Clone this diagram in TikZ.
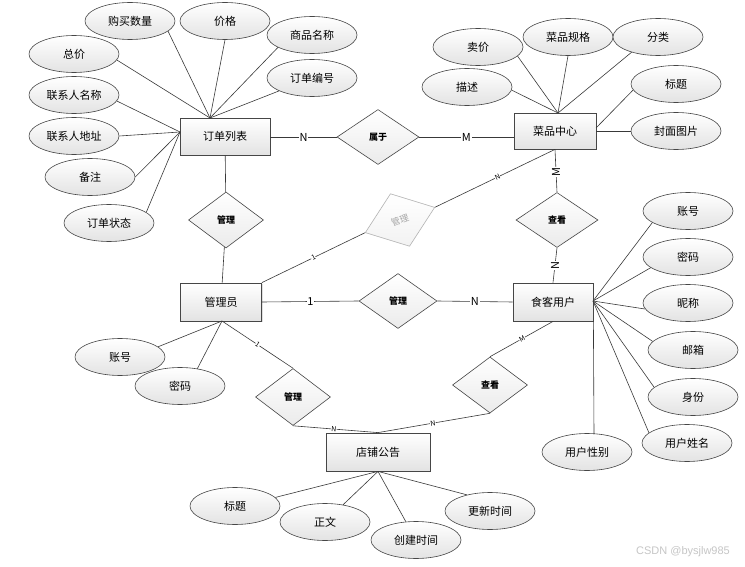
\documentclass[tikz,border=0pt]{standalone}
\usepackage{fontspec}
\setmainfont{Noto Sans CJK SC}
\newfontfamily\wmfont{Liberation Sans}
\usetikzlibrary{shapes.geometric,shadows}
\begin{document}
\begin{tikzpicture}[x=1pt,y=-1pt,
  ent/.style={rectangle, draw=gray!55!black, line width=0.8pt, top color=white, bottom color=gray!22,
    inner sep=0pt, font=\fontsize{11}{11}\selectfont,
    drop shadow={shadow xshift=1.2pt, shadow yshift=-1.2pt, opacity=0.25}},
  attr/.style={ellipse, draw=gray!55!black, line width=0.6pt, top color=white, bottom color=gray!22,
    minimum width=90pt, minimum height=37pt, inner sep=0pt, font=\fontsize{11}{11}\selectfont},
  rel/.style={diamond, draw=gray!55!black, line width=0.6pt, top color=white, bottom color=gray!16,
    inner sep=0pt, font=\fontsize{9}{9}\selectfont\bfseries},
  ln/.style={draw=gray!45!black, line width=0.6pt},
  card/.style={fill=white, inner sep=0.6pt, font=\fontsize{11}{11}\selectfont},
  scard/.style={fill=white, inner sep=0.3pt, font=\fontsize{7}{7}\selectfont, sloped}]
\useasboundingbox (0,0) rectangle (745,567);
\fill[white] (0,0) rectangle (745,567);

% entities
\node[ent, minimum width=90pt, minimum height=37pt] (ol) at (225,136.5) {订单列表};
\node[ent, minimum width=82pt, minimum height=36pt] (cp) at (555,131) {菜品中心};
\node[ent, minimum width=81pt, minimum height=38pt] (admin) at (221,302) {管理员};
\node[ent, minimum width=80pt, minimum height=38pt] (user) at (553,302) {食客用户};
\node[ent, minimum width=104pt, minimum height=38pt] (shop) at (378,452) {店铺公告};

% relationships
\node[rel, minimum width=82pt, minimum height=55pt] (shuyu) at (378,137) {属于};
\node[rel, minimum width=75pt, minimum height=56pt] (gl1) at (226,220) {管理};
\node[rel, minimum width=82pt, minimum height=55pt] (ck1) at (557,220) {查看};
\node[rel, minimum width=78pt, minimum height=55pt] (gm) at (398,301) {管理};
\node[rel, minimum width=75pt, minimum height=57pt] (gl2) at (293,397) {管理};
\node[rel, minimum width=75pt, minimum height=56pt] (ck2) at (490,385) {查看};
\node[rel, draw=gray!60, bottom color=gray!10, text=gray!70, font=\fontsize{9}{9}\selectfont,
  minimum width=74pt, minimum height=56pt, rotate=20] (rd) at (400,220) {管理};

% attributes of 订单列表
\node[attr] (buy) at (130,21) {购买数量};
\node[attr] (price) at (225,21) {价格};
\node[attr] (pname) at (312,35) {商品名称};
\node[attr] (ono) at (312,78) {订单编号};
\node[attr] (total) at (74,54) {总价};
\node[attr] (cname) at (74,95) {联系人名称};
\node[attr] (caddr) at (74,136) {联系人地址};
\node[attr] (note) at (90,177) {备注};
\node[attr] (status) at (109,223) {订单状态};

% attributes of 菜品中心
\node[attr] (sell) at (478,47) {卖价};
\node[attr] (desc) at (467,87) {描述};
\node[attr] (spec) at (568,37) {菜品规格};
\node[attr] (cat) at (658,37) {分类};
\node[attr] (ctitle) at (676,84) {标题};
\node[attr] (cover) at (676,131) {封面图片};

% attributes of 食客用户
\node[attr] (uacc) at (688,211) {账号};
\node[attr] (upwd) at (688,257) {密码};
\node[attr] (nick) at (688,303) {昵称};
\node[attr] (mail) at (693,350) {邮箱};
\node[attr] (ident) at (693,397) {身份};
\node[attr] (uname) at (687,443) {用户姓名};
\node[attr] (gender) at (587,452) {用户性别};

% attributes of 管理员
\node[attr] (aacc) at (120,357) {账号};
\node[attr] (apwd) at (180,386) {密码};

% attributes of 店铺公告
\node[attr] (stitle) at (235,506) {标题};
\node[attr] (body) at (325,522) {正文};
\node[attr] (created) at (416,540) {创建时间};
\node[attr] (updated) at (490,511) {更新时间};

% convergence points
\coordinate (olT) at (210,118);
\coordinate (olL) at (180,132);
\coordinate (cpT) at (558,113);
\coordinate (cpR1) at (596,128);
\coordinate (cpR2) at (596,131);
\coordinate (uR) at (593,301);
\coordinate (gT) at (594,434);
\coordinate (aB) at (222,321);

% attribute lines
\draw[ln] (buy.-15) -- (olT);
\draw[ln] (price.south) -- (olT);
\draw[ln] (pname.-160) -- (olT);
\draw[ln] (ono) -- (olT);
\draw[ln] (total.-8) -- (olT);
\draw[ln] (cname.-8) -- (olL);
\draw[ln] (caddr.east) -- (olL);
\draw[ln] (note.east) -- (olL);
\draw[ln] (status.16) -- (olL);

\draw[ln] (sell.-13) -- (cpT);
\draw[ln] (desc.-4) -- (cpT);
\draw[ln] (spec.south) -- (cpT);
\draw[ln] (cat.-150) -- (cpT);
\draw[ln] (ctitle.188) -- (cpR1);
\draw[ln] (cover.west) -- (cpR2);

\draw[ln] (uacc.-162) -- (uR);
\draw[ln] (upwd.-164) -- (uR);
\draw[ln] (nick.-172) -- (uR);
\draw[ln] (mail.168) -- (uR);
\draw[ln] (ident.166) -- (uR);
\draw[ln] (uname.165) -- (uR);
\draw[ln] (gT) -- (user.south east);

\draw[ln] (aacc.15) -- (aB);
\draw[ln] (apwd.45) -- (aB);

\draw[ln] (stitle.12) -- (shop.south);
\draw[ln] (body) -- (shop.south);
\draw[ln] (created) -- (shop.south);
\draw[ln] (updated.145) -- (shop.south);

% relationship lines
\draw[ln] (ol.east |- shuyu.west) -- node[card]{N} (shuyu.west);
\draw[ln] (shuyu.east) -- node[card]{M} (shuyu.east -| cp.west);
\draw[ln] (ol) -- (gl1);
\draw[ln] (gl1) -- (admin);
\draw[ln] (admin.north east) -- node[scard]{1} (rd.west);
\draw[ln] (rd.east) -- node[scard, pos=0.52]{N} (cp.south);
\draw[ln] (admin.east) -- node[card]{1} (gm.west);
\draw[ln] (gm.east) -- node[card]{N} (user.west);
\draw[ln] (cp.south) -- node[card, rotate=90, pos=0.53]{M} (ck1.north);
\draw[ln] (ck1.south) -- node[card, rotate=90]{N} (user.north);
\draw[ln] (aB) -- node[scard]{1} (gl2.north);
\draw[ln] (gl2.south) -- node[scard, pos=0.48]{N} (shop.north);
\draw[ln] (user.south) -- node[scard, pos=0.49]{M} (ck2.north);
\draw[ln] (ck2.south) -- node[scard, pos=0.51]{N} (shop.north);

% watermark
\node[text=gray!45, font=\wmfont\fontsize{11}{11}\selectfont] (wm) at (683,552) {CSDN @bysjlw985};
\end{tikzpicture}
\end{document}
